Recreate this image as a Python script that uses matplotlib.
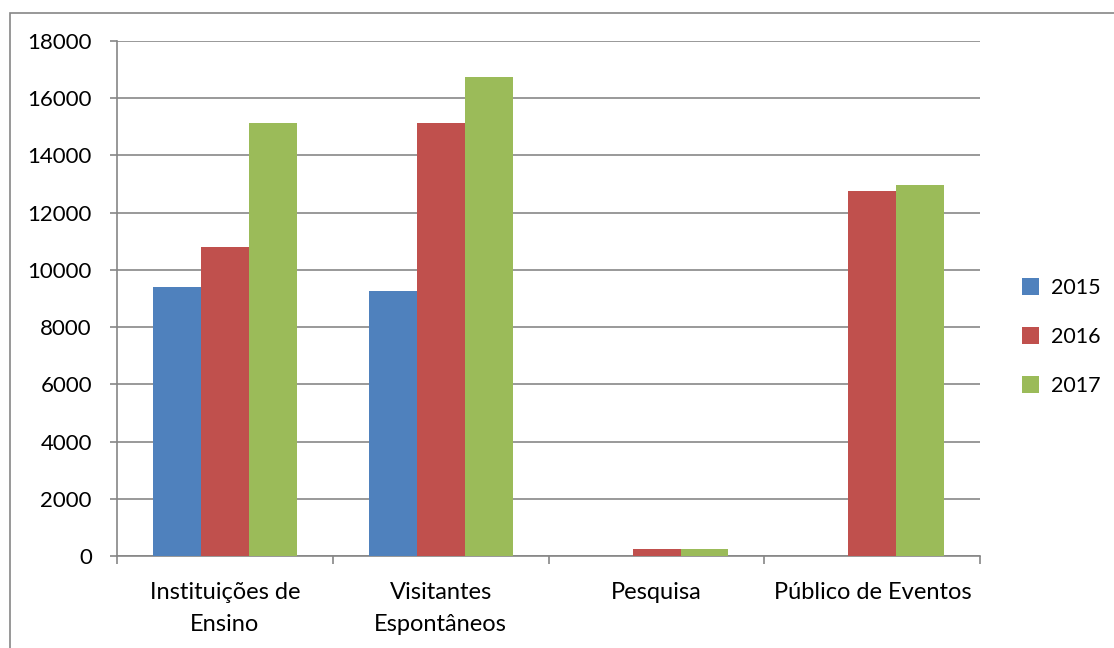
import numpy as np
import matplotlib.pyplot as plt
from matplotlib.patches import Rectangle

plt.rcParams['font.family'] = ['Lato', 'DejaVu Sans']

categorias = ["Instituições de\nEnsino", "Visitantes\nEspontâneos", "Pesquisa", "Público de Eventos"]
anos = ["2015", "2016", "2017"]
v2015 = [9400, 9260, 0, 0]
v2016 = [10800, 15130, 260, 12760]
v2017 = [15130, 16740, 260, 12970]
cores = ['#4F81BD', '#C0504D', '#9BBB59']

fig = plt.figure(figsize=(11.14, 6.48), dpi=100)
ax = fig.add_axes([0.105, 0.142, 0.775, 0.795])

# moldura externa
fig.patches.append(Rectangle((10 / 1114, -0.2), 2.0, 1.2 - 13 / 648,
                             transform=fig.transFigure, fill=False,
                             edgecolor='#868686', linewidth=1.2))

x = np.arange(len(categorias)) + 0.5
w = 0.222
for i, (serie, cor) in enumerate(zip([v2015, v2016, v2017], cores)):
    ax.bar(x + (i - 1) * w, serie, width=w, color=cor, label=anos[i],
           linewidth=0, zorder=3)

ax.set_xlim(0, 4)
ax.set_ylim(0, 18000)
ax.set_yticks(np.arange(0, 18001, 2000))
ax.grid(axis='y', color='#878787', linewidth=1.2, zorder=0)
ax.set_axisbelow(True)

ax.set_xticks(np.arange(0, 5))
ax.set_xticklabels([])
ax.set_xticks(x, minor=True)
ax.set_xticklabels(categorias, minor=True, fontsize=17, linespacing=1.65)
ax.tick_params(axis='x', which='minor', length=0, pad=19)
ax.tick_params(axis='x', which='major', length=6, color='#868686', width=1.2)
ax.tick_params(axis='y', length=5, color='#868686', width=1.2, pad=13, labelsize=16)

for s in ['top', 'right']:
    ax.spines[s].set_visible(False)
for s in ['left', 'bottom']:
    ax.spines[s].set_color('#868686')
    ax.spines[s].set_linewidth(1.2)

fig.legend(loc='center left', bbox_to_anchor=(0.9, 0.48), frameon=False,
           fontsize=15.5, handlelength=0.8, handleheight=0.8, labelspacing=1.35,
           handletextpad=0.55)

fig.savefig('out.png', dpi=100)
